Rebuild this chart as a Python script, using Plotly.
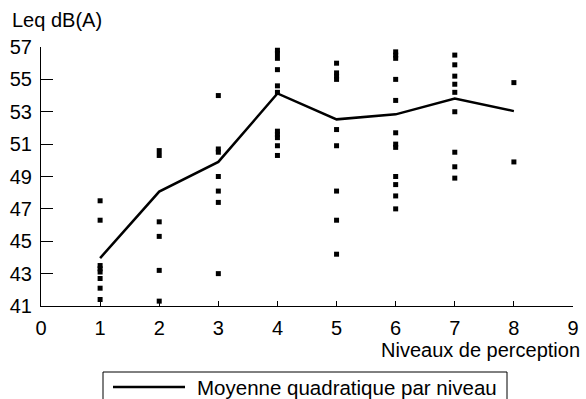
import plotly.graph_objects as go

levels = [1, 2, 3, 4, 5, 6, 7, 8]
mean_quadratic = [43.96, 48.07, 49.9, 54.13, 52.53, 52.84, 53.82, 53.04]

obs_level1 = [47.5, 46.3, 43.5, 43.3, 43.1, 42.7, 42.1, 41.4]
obs_level2 = [50.6, 50.3, 46.2, 45.3, 43.2, 41.3]
obs_level3 = [54.0, 50.7, 50.5, 49.0, 48.1, 47.4, 43.0]
obs_level4 = [56.8, 56.6, 56.3, 55.6, 54.6, 54.2, 51.8, 51.6, 51.4, 50.9, 50.3]
obs_level5 = [56.0, 55.4, 55.2, 55.0, 51.9, 50.9, 48.1, 46.3, 44.2]
obs_level6 = [56.7, 56.5, 56.3, 55.0, 53.7, 51.7, 51.0, 50.8, 49.0, 48.5, 47.8, 47.0]
obs_level7 = [56.5, 55.9, 55.2, 54.7, 54.2, 53.0, 50.5, 49.6, 48.9]
obs_level8 = [54.8, 49.9]
observations = [obs_level1, obs_level2, obs_level3, obs_level4,
                obs_level5, obs_level6, obs_level7, obs_level8]

x_ticks = [0, 1, 2, 3, 4, 5, 6, 7, 8, 9]
y_ticks = [41, 43, 45, 47, 49, 51, 53, 55, 57]

legend_label = "Moyenne quadratique par niveau"
y_title = "Leq dB(A)"
x_title = "Niveaux de perception"

sx, sy = [], []
for lv, vals in zip(levels, observations):
    sx += [lv] * len(vals)
    sy += vals

FONT = "Liberation Sans, Arial, Helvetica, sans-serif"
W, H = 586, 399
ML, MR, MT, MB = 41, 13, 47, 93
PW, PH = W - ML - MR, H - MT - MB


def px(x):
    return (x - ML) / PW


def py(y):
    return (H - MB - y) / PH


fig = go.Figure()
fig.add_trace(go.Scatter(
    x=sx, y=sy, mode="markers",
    marker=dict(symbol="square", size=5, color="black", line=dict(width=0)),
    showlegend=False, cliponaxis=False, hoverinfo="skip"))
fig.add_trace(go.Scatter(
    x=levels, y=mean_quadratic, mode="lines",
    line=dict(color="black", width=2.5),
    name=legend_label, showlegend=False, cliponaxis=False))

# manual legend box (open at bottom, as in the reference)
box_l, box_r, box_t, box_b = 103, 507, 372, 402
shapes = [
    dict(type="line", xref="paper", yref="paper", x0=px(box_l), x1=px(box_r),
         y0=py(box_t), y1=py(box_t), line=dict(color="black", width=1)),
    dict(type="line", xref="paper", yref="paper", x0=px(box_l), x1=px(box_l),
         y0=py(box_t), y1=py(box_b), line=dict(color="black", width=1)),
    dict(type="line", xref="paper", yref="paper", x0=px(box_r), x1=px(box_r),
         y0=py(box_t), y1=py(box_b), line=dict(color="black", width=1)),
    dict(type="line", xref="paper", yref="paper", x0=px(113), x1=px(185),
         y0=py(387), y1=py(387), line=dict(color="black", width=2.5)),
]

fig.update_layout(
    width=W, height=H,
    margin=dict(l=ML, r=MR, t=MT, b=MB, autoexpand=False),
    paper_bgcolor="white", plot_bgcolor="white",
    font=dict(family=FONT, size=20, color="black"),
    showlegend=False,
    xaxis=dict(range=[0, 9], tickvals=x_ticks, ticks="inside", ticklen=5,
               tickcolor="black", showline=True, linecolor="black", linewidth=1,
               showgrid=False, zeroline=False, tickfont=dict(size=20),
               ticklabelstandoff=4, automargin=False),
    yaxis=dict(range=[41, 57], tickvals=y_ticks, ticks="inside", ticklen=12,
               tickcolor="black", showline=True, linecolor="black", linewidth=1,
               showgrid=False, zeroline=False, tickfont=dict(size=20),
               ticklabelstandoff=4, automargin=False),
    shapes=shapes,
    annotations=[
        dict(text=y_title, xref="paper", yref="paper", x=px(10), y=py(20),
             xanchor="left", yanchor="middle", showarrow=False, font=dict(size=20)),
        dict(text=x_title, xref="paper", yref="paper", x=px(582), y=py(350),
             xanchor="right", yanchor="middle", showarrow=False, font=dict(size=20)),
        dict(text=legend_label, xref="paper", yref="paper", x=px(195), y=py(387),
             xanchor="left", yanchor="middle", showarrow=False, font=dict(size=20.5)),
    ],
)

fig.write_html(
    "out.html",
    config={"displayModeBar": False},
    post_script="document.body.style.margin='0';document.body.style.overflow='hidden';",
)
